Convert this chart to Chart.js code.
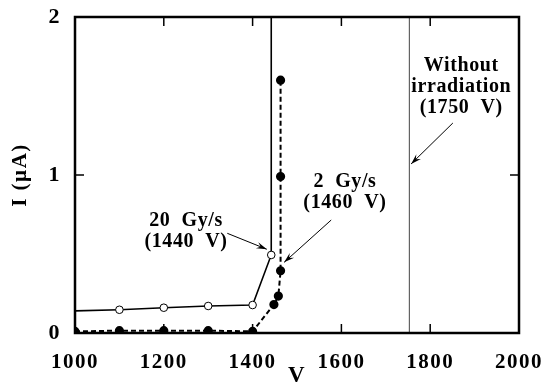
<!DOCTYPE html>
<html>
<head>
<meta charset="utf-8">
<script src="https://cdn.jsdelivr.net/npm/chart.js@4/dist/chart.umd.min.js"></script>
<style>
  html, body { margin: 0; padding: 0; background: #fff; }
  #wrap { width: 547px; height: 384px; }
</style>
</head>
<body>
<div id="wrap"><canvas id="c" width="547" height="384"></canvas></div>
<script>
// 20 Gy/s (open circles, solid)
const fastV = [1000, 1100, 1200, 1300, 1400, 1442, 1442];
const fastI = [0.14, 0.147, 0.16, 0.171, 0.177, 0.494, 2];
// 2 Gy/s (filled dots, dashed)
const slowV = [1000, 1100, 1200, 1300, 1400, 1448, 1458, 1463, 1463, 1463];
const slowI = [0.01, 0.015, 0.015, 0.015, 0.01, 0.18, 0.234, 0.394, 0.99, 1.6];
// without irradiation breakdown
const refV = [1753, 1753];
const refI = [0, 2];

const xTicks = [1000, 1200, 1400, 1600, 1800, 2000];
const yTicks = [0, 1, 2];

const FONT = '"Liberation Serif", "Times New Roman", serif';

// labels + arrows, in data units
const notes = [
  { lines: ['Without', 'irradiation', '(1750  V)'], x: 1870, y: [1.69, 1.557, 1.424],
    from: [1851, 1.329], to: [1757, 1.07] },
  { lines: ['2  Gy/s', '(1460  V)'], x: 1608, y: [0.956, 0.823],
    from: [1577, 0.715], to: [1471, 0.447] },
  { lines: ['20  Gy/s', '(1440  V)'], x: 1250, y: [0.709, 0.576],
    from: [1343, 0.631], to: [1432, 0.53] }
];

const toXY = (xs, ys) => xs.map((v, i) => ({ x: v, y: ys[i] }));

// the original type is a wide bold serif, so space the letters a bit
const spacingPlugin = {
  id: 'spacing',
  beforeInit(chart) { chart.ctx.letterSpacing = '1.5px'; },
  beforeDraw(chart) { chart.ctx.letterSpacing = '1.5px'; }
};

const framePlugin = {
  id: 'frame',
  afterDraw(chart) {
    const { ctx, chartArea: a, scales: { x, y } } = chart;
    ctx.save();
    ctx.strokeStyle = '#000';
    // inward ticks on all sides
    ctx.lineWidth = 1.5;
    ctx.beginPath();
    xTicks.forEach(t => {
      const px = x.getPixelForValue(t);
      ctx.moveTo(px, a.bottom); ctx.lineTo(px, a.bottom - 9);
      ctx.moveTo(px, a.top); ctx.lineTo(px, a.top + 9);
    });
    yTicks.forEach(t => {
      const py = y.getPixelForValue(t);
      ctx.moveTo(a.left, py); ctx.lineTo(a.left + 9, py);
      ctx.moveTo(a.right, py); ctx.lineTo(a.right - 9, py);
    });
    ctx.stroke();
    // box
    ctx.lineWidth = 2.5;
    ctx.strokeRect(a.left, a.top, a.right - a.left, a.bottom - a.top);

    // annotations
    ctx.fillStyle = '#000';
    ctx.font = 'bold 20px ' + FONT;
    ctx.letterSpacing = '0.6px';
    ctx.textAlign = 'center';
    ctx.textBaseline = 'middle';
    notes.forEach(n => {
      n.lines.forEach((s, i) => ctx.fillText(s, x.getPixelForValue(n.x), y.getPixelForValue(n.y[i])));
      const x0 = x.getPixelForValue(n.from[0]), y0 = y.getPixelForValue(n.from[1]);
      const x1 = x.getPixelForValue(n.to[0]), y1 = y.getPixelForValue(n.to[1]);
      ctx.lineWidth = 1;
      ctx.beginPath(); ctx.moveTo(x0, y0); ctx.lineTo(x1, y1); ctx.stroke();
      const ang = Math.atan2(y1 - y0, x1 - x0), L = 11, w = 0.3;
      ctx.beginPath();
      ctx.moveTo(x1, y1);
      ctx.lineTo(x1 - L * Math.cos(ang - w), y1 - L * Math.sin(ang - w));
      ctx.lineTo(x1 - 0.6 * L * Math.cos(ang), y1 - 0.6 * L * Math.sin(ang));
      ctx.lineTo(x1 - L * Math.cos(ang + w), y1 - L * Math.sin(ang + w));
      ctx.closePath();
      ctx.fill();
    });
    ctx.restore();
  }
};

new Chart(document.getElementById('c'), {
  type: 'scatter',
  data: {
    datasets: [
      {
        label: 'Without irradiation',
        data: toXY(refV, refI),
        showLine: true,
        borderColor: '#444',
        borderWidth: 1,
        pointRadius: 0
      },
      {
        label: '20 Gy/s',
        data: toXY(fastV, fastI),
        showLine: true,
        borderColor: '#000',
        borderWidth: 1.6,
        backgroundColor: '#fff',
        pointBorderColor: '#000',
        pointBorderWidth: 1,
        pointRadius: ctx => (ctx.dataIndex === 0 || ctx.dataIndex === fastV.length - 1) ? 0 : 3.8
      },
      {
        label: '2 Gy/s',
        data: toXY(slowV, slowI),
        showLine: true,
        borderColor: '#000',
        borderWidth: 2,
        borderDash: [5, 3],
        backgroundColor: '#000',
        pointBorderColor: '#000',
        pointRadius: 3.6
      }
    ]
  },
  options: {
    responsive: false,
    animation: false,
    layout: { padding: { left: 0, right: 28, top: 17, bottom: 0 } },
    plugins: { legend: { display: false }, tooltip: { enabled: false } },
    scales: {
      x: {
        type: 'linear',
        min: 1000, max: 2000,
        afterBuildTicks: s => { s.ticks = xTicks.map(v => ({ value: v })); },
        afterFit: s => { s.height = 51; s.paddingLeft = 0; s.paddingRight = 0; },
        grid: { display: false },
        border: { display: false },
        ticks: { color: '#000', padding: 9, maxRotation: 0, callback: v => String(v),
          font: { family: FONT, size: 21, weight: 'bold' } },
        title: { display: true, text: 'V', color: '#000', padding: { top: 0, bottom: -4 },
          font: { family: FONT, size: 23, weight: 'bold', lineHeight: 1 } }
      },
      y: {
        min: 0, max: 2,
        afterBuildTicks: s => { s.ticks = yTicks.map(v => ({ value: v })); },
        afterFit: s => { s.width = 75; s.paddingTop = 0; s.paddingBottom = 0; },
        grid: { display: false },
        border: { display: false },
        ticks: { color: '#000', padding: 6, callback: v => String(v),
          font: { family: FONT, size: 22, weight: 'bold' } },
        title: { display: true, text: 'I (µA)', color: '#000', padding: { top: 10, bottom: 0 },
          font: { family: FONT, size: 21, weight: 'bold', lineHeight: 1 } }
      }
    }
  },
  plugins: [spacingPlugin, framePlugin]
});
</script>
</body>
</html>
